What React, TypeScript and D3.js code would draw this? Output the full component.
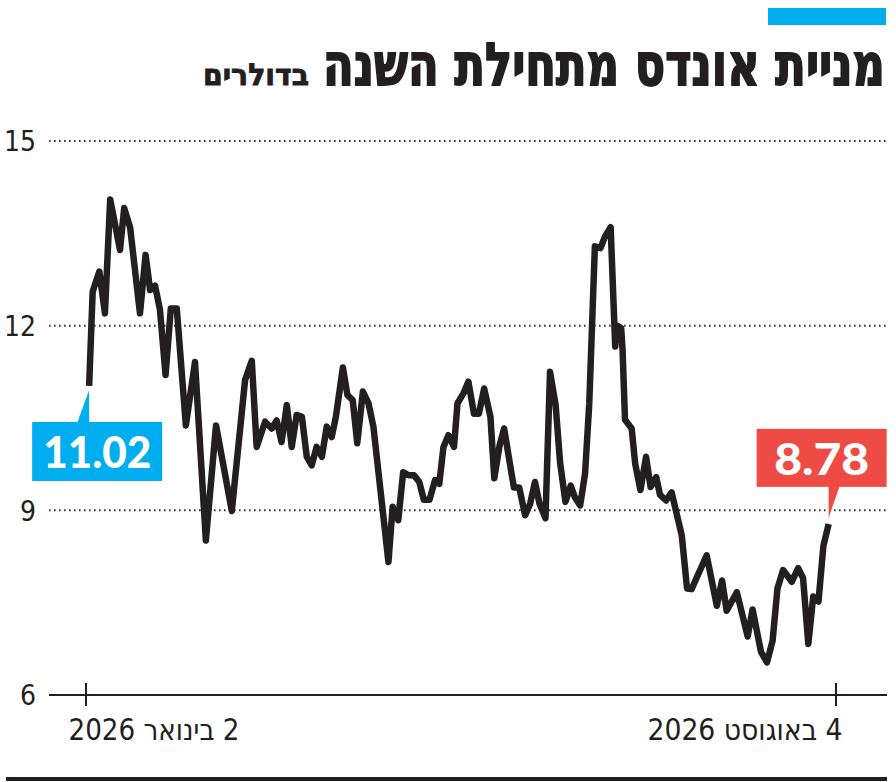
import React, { useLayoutEffect, useRef, useState } from "react";
import * as d3 from "d3";

// Days since 2 January 2026 and the share price (USD)
const dayOffsets = [
  0.9, 1.9, 3.8, 5.4, 6.9, 9.7, 10.9, 12.6, 15.4, 17.0,
  18.3, 19.7, 21.1, 22.7, 24.2, 25.9, 28.5, 31.1, 34.2, 37.1,
  41.6, 45.4, 47.3, 48.7, 51.1, 53.0, 54.4, 55.8, 57.3, 58.7,
  60.1, 61.6, 63.0, 64.4, 65.8, 67.3, 68.7, 70.1, 71.3, 73.3,
  74.6, 76.1, 77.4, 79.0, 80.6, 82.0, 83.7, 86.3, 87.5, 89.1,
  90.5, 92.0, 93.6, 95.1, 96.4, 98.0, 99.6, 100.8, 102.0, 103.4,
  105.0, 106.0, 107.7, 109.1, 110.7, 112.1, 113.6, 115.4, 116.5, 118.0,
  119.3, 121.0, 122.1, 123.6, 125.3, 126.7, 128.1, 129.4, 131.1, 132.4,
  134.0, 135.3, 136.8, 138.3, 139.5, 141.0, 142.4, 143.6, 145.2, 146.8,
  148.1, 149.7, 151.0, 151.5, 152.7, 153.1, 153.8, 155.7, 156.7, 158.2,
  159.8, 161.1, 162.7, 163.8, 165.5, 167.1, 170.0, 171.5, 172.8, 177.1,
  180.0, 181.5, 182.8, 185.7, 188.8, 190.2, 192.6, 194.3, 195.9, 197.3,
  198.9, 201.4, 203.2, 204.6, 206.1, 207.5, 209.0, 210.4, 211.9,
];

const prices = [
  11.02, 12.55, 12.88, 12.2, 14.05, 13.23, 13.91, 13.59, 12.2, 13.15,
  12.58, 12.65, 12.26, 11.2, 12.28, 12.28, 10.38, 11.41, 8.51, 10.38,
  8.99, 11.12, 11.43, 10.03, 10.44, 10.33, 10.46, 10.11, 10.71, 10.03,
  10.55, 10.52, 9.87, 9.73, 10.03, 9.87, 10.36, 10.19, 10.52, 11.32,
  10.87, 10.79, 10.09, 10.93, 10.74, 10.36, 9.49, 8.16, 9.06, 8.84,
  9.62, 9.57, 9.57, 9.46, 9.17, 9.17, 9.49, 9.43, 10.03, 10.22,
  10.03, 10.74, 10.9, 11.09, 10.57, 10.57, 10.98, 10.52, 9.52, 10.05,
  10.33, 9.74, 9.37, 9.37, 8.92, 9.1, 9.46, 9.11, 8.87, 11.25,
  10.71, 9.76, 9.14, 9.4, 9.21, 9.08, 9.6, 10.74, 13.29, 13.26,
  13.45, 13.6, 11.66, 12.0, 11.96, 11.6, 10.47, 10.33, 9.76, 9.33,
  9.87, 9.38, 9.54, 9.25, 9.16, 9.29, 8.59, 7.73, 7.72, 8.27,
  7.45, 7.86, 7.37, 7.67, 6.95, 7.39, 6.7, 6.53, 6.88, 7.73,
  8.03, 7.84, 8.06, 7.9, 6.83, 7.6, 7.52, 8.42, 8.78,
];

const yTicks = [6, 9, 12, 15];
const xTickDays = [0, 214];
const xTickLabels = ["2 בינואר 2026", "4 באוגוסט 2026"];
const titleMain = "מניית אונדס מתחילת השנה";
const titleUnit = "בדולרים";
const firstLabel = "11.02";
const lastLabel = "8.78";

const W = 896;
const H = 782;
const INK = "#231f20";
const BLUE = "#00aeef";
const RED = "#ef4b45";
const COND = "'DejaVu Sans Condensed', 'DejaVu Sans', sans-serif";
const BADGE = "Lato, Roboto, 'Open Sans', sans-serif";

// Text centred at (cx, y) and squeezed horizontally to a target width
function FitText(props: {
  cx: number;
  y: number;
  width: number;
  rtl?: boolean;
  children: string;
  [k: string]: any;
}) {
  const { cx, y, width, rtl, children, ...rest } = props;
  const ref = useRef<SVGTextElement>(null);
  const [s, setS] = useState(0.7);
  useLayoutEffect(() => {
    if (ref.current) {
      const w = ref.current.getComputedTextLength();
      if (w > 0) setS(width / w);
    }
  }, [width, children]);
  return (
    <g transform={`translate(${cx},${y}) scale(${s},1)`}>
      <text ref={ref} x={0} y={0} textAnchor="middle" direction={rtl ? "rtl" : "ltr"} {...rest}>
        {children}
      </text>
    </g>
  );
}

export default function App() {
  const x = d3.scaleLinear().domain([0, 214]).range([86, 836]);
  const y = d3.scaleLinear().domain([6, 15]).range([695, 141]);

  const pts = dayOffsets.map((d, i) => [d, prices[i]] as [number, number]);
  const line = d3
    .line<[number, number]>()
    .x((p) => x(p[0]))
    .y((p) => y(p[1]))
    .curve(d3.curveLinear);

  const fx = x(dayOffsets[0]);
  const fy = y(prices[0]);
  const lx = x(dayOffsets[dayOffsets.length - 1]);
  const ly = y(prices[prices.length - 1]);

  const fTipY = fy + 4;
  const fBox = { x0: fx - 57, x1: fx + 73, y0: fy + 36, y1: fy + 95 };
  const lTipY = ly - 6;
  const lBox = { x0: lx - 72, x1: lx + 58, y0: ly - 95, y1: ly - 37 };

  const xLabelLen = [171, 195];

  return (
    <svg
      width={W}
      height={H}
      viewBox={`0 0 ${W} ${H}`}
      style={{ position: "absolute", left: 0, top: 0, background: "#fff" }}
    >
      {/* accent bar */}
      <rect x={768} y={8} width={118} height={17} fill={BLUE} />

      {/* title */}
      <FitText
        cx={604}
        y={85}
        width={562}
        rtl
        fontFamily={COND}
        fontWeight="bold"
        fontSize={59}
        fill={INK}
        stroke={INK}
        strokeWidth={1.8}
      >
        {titleMain}
      </FitText>
      <FitText
        cx={256}
        y={85}
        width={106}
        rtl
        fontFamily={COND}
        fontWeight="bold"
        fontSize={30}
        fill={INK}
        stroke={INK}
        strokeWidth={0.8}
      >
        {titleUnit}
      </FitText>

      {/* gridlines */}
      {yTicks
        .filter((t) => t !== 6)
        .map((t) => (
          <line
            key={t}
            x1={49}
            x2={887}
            y1={y(t)}
            y2={y(t)}
            stroke="#333"
            strokeWidth={2}
            strokeDasharray="1.6 3.4"
          />
        ))}
      {/* y labels */}
      {yTicks.map((t) => (
        <text
          key={t}
          x={36}
          y={y(t)}
          dy="0.37em"
          textAnchor="end"
          fontFamily={COND}
          fontSize={28}
          fill={INK}
        >
          {t}
        </text>
      ))}

      {/* x axis */}
      <line x1={49} x2={887} y1={y(6)} y2={y(6)} stroke={INK} strokeWidth={2} />
      {xTickDays.map((d, i) => (
        <g key={d}>
          <line x1={x(d)} x2={x(d)} y1={y(6) - 12} y2={y(6) + 11} stroke={INK} strokeWidth={2} />
          <FitText
            cx={x(d) + (i === 0 ? 68 : -91)}
            y={740}
            width={xLabelLen[i]}
            rtl
            fontFamily={COND}
            fontSize={30}
            fill={INK}
          >
            {xTickLabels[i]}
          </FitText>
        </g>
      ))}

      {/* price line */}
      <path
        d={line(pts) || ""}
        fill="none"
        stroke={INK}
        strokeWidth={6.5}
        strokeLinejoin="round"
      />

      {/* first badge */}
      <path
        d={`M${fx},${fTipY} L${fx},${fBox.y0 + 1} L${fx - 12},${fBox.y0 + 1} Z`}
        fill={BLUE}
      />
      <rect x={fBox.x0} y={fBox.y0} width={fBox.x1 - fBox.x0} height={fBox.y1 - fBox.y0} fill={BLUE} />
      <FitText
        cx={(fBox.x0 + fBox.x1) / 2}
        y={fBox.y1 - 13}
        width={108}
        fontFamily={BADGE}
        fontWeight={900}
        fontSize={44}
        fill="#fff"
      >
        {firstLabel}
      </FitText>

      {/* last badge */}
      <path
        d={`M${lx},${lTipY} L${lx},${lBox.y1 - 1} L${lx + 11},${lBox.y1 - 1} Z`}
        fill={RED}
      />
      <rect x={lBox.x0} y={lBox.y0} width={lBox.x1 - lBox.x0} height={lBox.y1 - lBox.y0} fill={RED} />
      <FitText
        cx={(lBox.x0 + lBox.x1) / 2}
        y={lBox.y1 - 12}
        width={95}
        fontFamily={BADGE}
        fontWeight={900}
        fontSize={44}
        fill="#fff"
      >
        {lastLabel}
      </FitText>

      {/* bottom rule */}
      <rect x={6} y={777} width={881} height={4} fill={INK} />
    </svg>
  );
}
